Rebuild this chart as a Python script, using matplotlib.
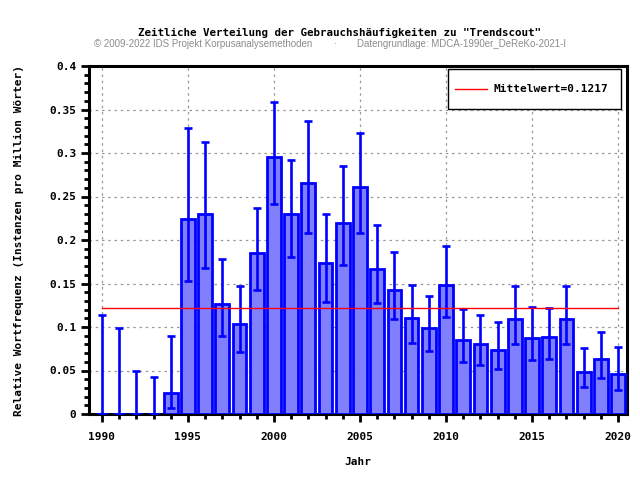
import matplotlib
matplotlib.use("Agg")
import matplotlib.pyplot as plt
from matplotlib.ticker import MultipleLocator
from matplotlib.patches import Rectangle
from matplotlib.lines import Line2D
import numpy as np

years = list(range(1990, 2021))
values = [0, 0, 0, 0, 0.0245, 0.2245, 0.2295, 0.1268, 0.103, 0.1847,
          0.295, 0.2295, 0.266, 0.173, 0.220, 0.2606, 0.167, 0.1429, 0.1107, 0.0992,
          0.1479, 0.0854, 0.0808, 0.0739, 0.1096, 0.0877, 0.0889, 0.1096, 0.0487, 0.0636, 0.0464]
err_low = [0, 0, 0, 0, 0.0073, 0.153, 0.168, 0.090, 0.0717, 0.1425,
           0.241, 0.180, 0.208, 0.129, 0.171, 0.208, 0.128, 0.109, 0.082, 0.0728,
           0.112, 0.0602, 0.0567, 0.0521, 0.0808, 0.0625, 0.0636, 0.0808, 0.0314, 0.0418, 0.028]
err_high = [0.1142, 0.0992, 0.0498, 0.0425, 0.090, 0.329, 0.313, 0.178, 0.1475, 0.237,
            0.359, 0.2916, 0.337, 0.230, 0.285, 0.323, 0.217, 0.186, 0.148, 0.1356,
            0.193, 0.1207, 0.1142, 0.1057, 0.1475, 0.1234, 0.1222, 0.1475, 0.0762, 0.0946, 0.0774]
mean_value = 0.1217

title = 'Zeitliche Verteilung der Gebrauchshäufigkeiten zu "Trendscout"'
sub_left = "© 2009-2022 IDS Projekt Korpusanalysemethoden"
sub_mid = "·"
sub_right = "Datengrundlage: MDCA-1990er_DeReKo-2021-I"

mono = "DejaVu Sans Mono"
blue = "#0000ff"

fig = plt.figure(figsize=(6.4, 4.8), dpi=100)
ax = fig.add_axes([89/640, 66/480, (627-89)/640, (414-66)/480])

x = np.array(years)
v = np.array(values)
lo = v - np.array(err_low)
hi = np.array(err_high) - v

ax.bar(x, v, width=0.8, color="#8080ff", edgecolor=blue, linewidth=2.0, zorder=3)
ax.errorbar(x, v, yerr=[lo, hi], fmt="none", ecolor=blue, elinewidth=1.9,
            capsize=2.6, capthick=1.9, zorder=4)
ax.plot([years[0], years[-1]], [mean_value, mean_value], color="#ff0000", lw=1.0, zorder=5)

ax.set_xlim(1989.25, 2020.52)
ax.set_ylim(0, 0.4)
ax.xaxis.set_major_locator(MultipleLocator(5))
ax.xaxis.set_minor_locator(MultipleLocator(1))
ax.yaxis.set_minor_locator(MultipleLocator(0.01))
ax.set_yticks([0, 0.05, 0.1, 0.15, 0.2, 0.25, 0.3, 0.35, 0.4])
ax.set_yticklabels(["0", "0.05", "0.1", "0.15", "0.2", "0.25", "0.3", "0.35", "0.4"])

ax.grid(True, which="major", color="#999999", linestyle=(0, (2, 3)), linewidth=0.9, zorder=0)
ax.set_axisbelow(True)
for s in ax.spines.values():
    s.set_linewidth(2.2)
    s.set_color("black")
ax.tick_params(axis="both", which="major", direction="out", length=6, width=2, pad=3)
ax.tick_params(axis="both", which="minor", direction="out", length=3.5, width=2)
ax.tick_params(axis="x", pad=7)
for lab in ax.get_xticklabels() + ax.get_yticklabels():
    lab.set_fontfamily(mono)
    lab.set_fontweight("bold")
    lab.set_fontsize(8)

ax.set_xlabel("Jahr", fontfamily=mono, fontweight="bold", fontsize=8, labelpad=11)
ax.set_ylabel("Relative Wortfrequenz (Instanzen pro Million Wörter)", fontfamily=mono,
              fontweight="bold", fontsize=8, labelpad=18)

# legend box (drawn in axes coordinates)
W, H = 538.0, 348.0
def ax_x(px):
    return (px - 89) / W
def ax_y(py):
    return 1 - (py - 66) / H
ax.add_patch(Rectangle((ax_x(448), ax_y(109)), ax_x(621) - ax_x(448), ax_y(69) - ax_y(109),
                       transform=ax.transAxes, facecolor="white", edgecolor="black",
                       linewidth=1.0, zorder=6))
ax.add_line(Line2D([ax_x(455), ax_x(487)], [ax_y(89), ax_y(89)], transform=ax.transAxes,
                   color="#ff0000", lw=1.0, zorder=7))
ax.text(ax_x(493), ax_y(89), f"Mittelwert={mean_value}", transform=ax.transAxes,
        ha="left", va="center", fontfamily=mono, fontweight="bold", fontsize=8, zorder=7)

fig.text(340/640, 1 - 33/480, title, ha="center", va="center", fontfamily=mono,
         fontweight="bold", fontsize=7.8)
sub_kw = dict(va="center", fontfamily="Liberation Sans", fontsize=7.0, color="#8c8c8c")
fig.text(94/640, 1 - 44/480, sub_left, ha="left", **sub_kw)
fig.text(335/640, 1 - 44/480, sub_mid, ha="center", **sub_kw)
fig.text(357/640, 1 - 44/480, sub_right, ha="left", **sub_kw)

fig.savefig("out.png", dpi=100)
